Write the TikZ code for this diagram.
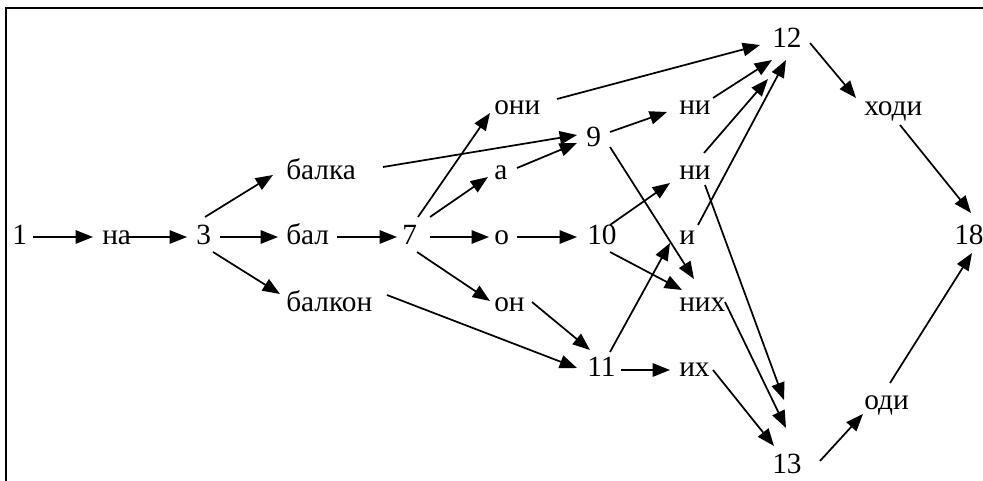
\documentclass[tikz,border=0pt]{standalone}
\usepackage{fontspec}
\setmainfont{Liberation Serif}
\usetikzlibrary{arrows.meta}
\begin{document}
\begin{tikzpicture}[x=0.75pt,y=-0.75pt,
  lbl/.style={anchor=base west,inner sep=0pt,font=\fontsize{22}{26}\selectfont},
  arr/.style={line width=1.3pt,-{Triangle[length=13pt,width=10pt]}},
  frame/.style={line width=1.6pt}]
\useasboundingbox (0,0) rectangle (983,481);
\draw[frame] (6,481) -- (6,8) -- (983,8);
% nodes
\node[lbl] (n1) at (12,245) {1};
\node[lbl] (na) at (102,245) {на};
\node[lbl] (n3) at (196,245) {3};
\node[lbl] (balka) at (286,180) {балка};
\node[lbl] (bal) at (286,245) {бал};
\node[lbl] (balkon) at (286,311) {балкон};
\node[lbl] (n7) at (402,245) {7};
\node[lbl] (oni) at (494,115) {они};
\node[lbl] (a) at (494,180) {а};
\node[lbl] (o) at (494,245) {о};
\node[lbl] (on) at (494,311) {он};
\node[lbl] (n9) at (586,147) {9};
\node[lbl] (n10) at (587,245) {10};
\node[lbl] (n11) at (587,377) {11};
\node[lbl] (ni1) at (679,115) {ни};
\node[lbl] (ni2) at (679,180) {ни};
\node[lbl] (i) at (679,245) {и};
\node[lbl] (nih) at (679,311) {них};
\node[lbl] (ih) at (679,377) {их};
\node[lbl] (n12) at (772,48) {12};
\node[lbl] (n13) at (772,473) {13};
\node[lbl] (hodi) at (864,116) {ходи};
\node[lbl] (odi) at (864,409) {оди};
\node[lbl] (n18) at (954,245) {18};
% connectors
\draw[arr] ([shift={(21,-8)}]n1.base west) -- ([shift={(-9,-8)}]na.base west);
\draw[arr] ([shift={(25,-8)}]na.base west) -- ([shift={(-9,-8)}]n3.base west);
\draw[arr] ([shift={(9,-28)}]n3.base west) -- ([shift={(-13,-5)}]balka.base west);
\draw[arr] ([shift={(24,-8)}]n3.base west) -- ([shift={(-8,-8)}]bal.base west);
\draw[arr] ([shift={(17,7)}]n3.base west) -- ([shift={(-6,-17)}]balkon.base west);
\draw[arr] ([shift={(51,-8)}]bal.base west) -- ([shift={(-5,-8)}]n7.base west);
\draw[arr] ([shift={(97,-13)}]balka.base west) -- ([shift={(-9,-12)}]n9.base west);
\draw[arr] ([shift={(101,-16)}]balkon.base west) -- ([shift={(-10,-9)}]n11.base west);
\draw[arr] ([shift={(16,-28)}]n7.base west) -- ([shift={(-4,-2)}]oni.base west);
\draw[arr] ([shift={(28,-28)}]n7.base west) -- ([shift={(-6,-3)}]a.base west);
\draw[arr] ([shift={(28,-8)}]n7.base west) -- ([shift={(-5,-8)}]o.base west);
\draw[arr] ([shift={(15,7)}]n7.base west) -- ([shift={(-4,-10)}]on.base west);
\draw[arr] ([shift={(63,-16)}]oni.base west) -- ([shift={(-12,-3)}]n12.base west);
\draw[arr] ([shift={(23,-12)}]a.base west) -- ([shift={(-9,-4)}]n9.base west);
\draw[arr] ([shift={(23,-8)}]o.base west) -- ([shift={(-10,-8)}]n10.base west);
\draw[arr] ([shift={(38,-9)}]on.base west) -- ([shift={(3,-27)}]n11.base west);
\draw[arr] ([shift={(24,-15)}]n9.base west) -- ([shift={(-12,-3)}]ni1.base west);
\draw[arr] ([shift={(24,0)}]n9.base west) -- ([shift={(15,-32)}]nih.base west);
\draw[arr] ([shift={(23,-20)}]n10.base west) -- ([shift={(-9,3)}]ni2.base west);
\draw[arr] ([shift={(23,7)}]n10.base west) -- ([shift={(3,-21)}]nih.base west);
\draw[arr] ([shift={(23,-25)}]n11.base west) -- ([shift={(-9,-2)}]i.base west);
\draw[arr] ([shift={(34,-7)}]n11.base west) -- ([shift={(-9,-7)}]ih.base west);
\draw[arr] ([shift={(34,-17)}]ni1.base west) -- ([shift={(0,12)}]n12.base west);
\draw[arr] ([shift={(25,-27)}]ni2.base west) -- ([shift={(-4,31)}]n12.base west);
\draw[arr] ([shift={(19,-20)}]i.base west) -- ([shift={(14,12)}]n12.base west);
\draw[arr] ([shift={(26,5)}]ni2.base west) -- ([shift={(12,-73)}]n13.base west);
\draw[arr] ([shift={(46,-9)}]nih.base west) -- ([shift={(14,-45)}]n13.base west);
\draw[arr] ([shift={(34,-7)}]ih.base west) -- ([shift={(2,-27)}]n13.base west);
\draw[arr] ([shift={(38,-5)}]n12.base west) -- ([shift={(-8,-18)}]hodi.base west);
\draw[arr] ([shift={(36,9)}]hodi.base west) -- ([shift={(17,-32)}]n18.base west);
\draw[arr] ([shift={(48,-12)}]n13.base west) -- ([shift={(-1,5)}]odi.base west);
\draw[arr] ([shift={(26,-26)}]odi.base west) -- ([shift={(18,8)}]n18.base west);
\end{tikzpicture}
\end{document}
